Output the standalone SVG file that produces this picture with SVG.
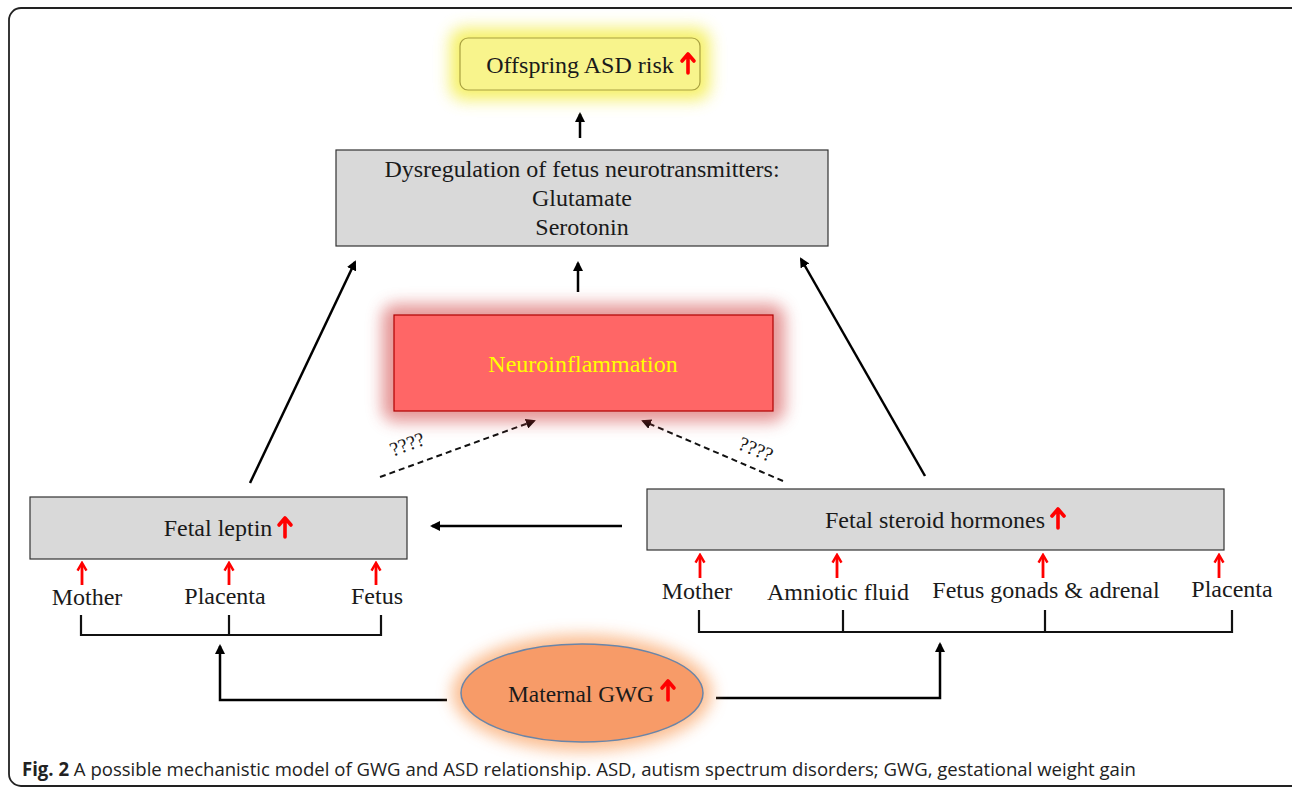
<svg xmlns="http://www.w3.org/2000/svg" width="1292" height="789" viewBox="0 0 1292 789">
<style>
.t{font-family:"Liberation Serif","Times New Roman",serif;fill:#1a1a1a;text-anchor:middle;dominant-baseline:central}
.box{fill:#d9d9d9;stroke:#333;stroke-width:1.2}
.ln{fill:none;stroke:#000;stroke-width:2.5}
.br{fill:none;stroke:#111;stroke-width:2.2}
.rd{fill:none;stroke:#ff0000;stroke-width:2.8}
</style>
<defs>
<marker id="ah" viewBox="0 0 10 10" refX="8" refY="5" markerWidth="4" markerHeight="4" orient="auto"><path d="M0,0 L10,5 L0,10 z" fill="#000"/></marker>
<marker id="ahs" viewBox="0 0 10 10" refX="8" refY="5" markerWidth="5" markerHeight="5" orient="auto"><path d="M0,0 L10,5 L0,10 z" fill="#000"/></marker>
<marker id="rh" viewBox="0 0 10 10" refX="7" refY="5" markerWidth="4" markerHeight="4" orient="auto"><path d="M1,1 L8,5 L1,9" fill="none" stroke="#ff0000" stroke-width="2.2"/></marker>
<filter id="glow" x="-30%" y="-50%" width="160%" height="200%"><feGaussianBlur stdDeviation="8"/></filter>
<path id="up" d="M0,10 V-8 M-6,-2 L0,-9 L6,-2" fill="none" stroke="#ff0000" stroke-width="3.6" stroke-linecap="round" stroke-linejoin="round"/>
</defs>
<rect x="9" y="8" width="1300" height="778" rx="12" fill="#fff" stroke="#222" stroke-width="1.8"/>

<g id="connectors">
<line class="ln" x1="580" y1="138" x2="580" y2="114" marker-end="url(#ah)"/>
<line class="ln" x1="578" y1="292" x2="578" y2="263" marker-end="url(#ah)"/>
<line class="ln" x1="250" y1="483" x2="355" y2="262" marker-end="url(#ah)"/>
<line class="ln" x1="925" y1="476" x2="801" y2="259" marker-end="url(#ah)"/>
<line class="ln" x1="622" y1="526" x2="432" y2="526" marker-end="url(#ah)"/>
<line x1="380" y1="477" x2="534" y2="421" stroke="#111" stroke-width="2" stroke-dasharray="6,4" marker-end="url(#ahs)"/>
<line x1="783" y1="481" x2="643" y2="421" stroke="#111" stroke-width="2" stroke-dasharray="6,4" marker-end="url(#ahs)"/>
<text class="t" font-size="20" transform="translate(407,444) rotate(-20)">????</text>
<text class="t" font-size="20" transform="translate(756,449) rotate(22)">????</text>
<polyline class="ln" points="447,700 220,700 220,646" marker-end="url(#ah)"/>
<polyline class="ln" points="716,698 940,698 940,644" marker-end="url(#ah)"/>
<polyline class="br" points="81,615 81,635 381,635 381,615"/>
<line class="br" x1="229" y1="615" x2="229" y2="635"/>
<polyline class="br" points="699,610 699,632 1232,632 1232,610"/>
<line class="br" x1="843" y1="610" x2="843" y2="632"/>
<line class="br" x1="1045" y1="610" x2="1045" y2="632"/>
<line class="rd" x1="82" y1="585" x2="82" y2="564" marker-end="url(#rh)"/>
<line class="rd" x1="229" y1="585" x2="229" y2="564" marker-end="url(#rh)"/>
<line class="rd" x1="376" y1="585" x2="376" y2="564" marker-end="url(#rh)"/>
<line class="rd" x1="700" y1="578" x2="700" y2="556" marker-end="url(#rh)"/>
<line class="rd" x1="837" y1="578" x2="837" y2="556" marker-end="url(#rh)"/>
<line class="rd" x1="1043" y1="578" x2="1043" y2="556" marker-end="url(#rh)"/>
<line class="rd" x1="1219" y1="578" x2="1219" y2="556" marker-end="url(#rh)"/>
</g>

<g id="offspring">
<rect x="450" y="28" width="260" height="72" rx="14" fill="#f4ee50" filter="url(#glow)" opacity="0.85"/>
<rect x="460" y="38" width="240" height="52" rx="8" fill="#f8f48c" stroke="#a8a040" stroke-width="1.2"/>
<text class="t" x="580" y="65" font-size="24">Offspring ASD risk</text>
<use href="#up" x="688" y="63"/>
</g>

<g id="dysregulation">
<rect class="box" x="336" y="150" width="492" height="96"/>
<text class="t" x="582" y="169" font-size="24">Dysregulation of fetus neurotransmitters:</text>
<text class="t" x="582" y="198" font-size="24">Glutamate</text>
<text class="t" x="582" y="227" font-size="24">Serotonin</text>
</g>

<g id="neuroinflammation">
<rect x="382" y="304" width="403" height="118" rx="14" fill="#d04040" filter="url(#glow)" opacity="0.55"/>
<rect x="394" y="315" width="379" height="96" fill="#ff6666" stroke="#b00000" stroke-width="1.2"/>
<text class="t" x="583" y="364" font-size="24" style="fill:#ffff00">Neuroinflammation</text>
</g>

<g id="leptin">
<rect class="box" x="30" y="497" width="377" height="62"/>
<text class="t" x="218" y="528" font-size="24">Fetal leptin</text>
<use href="#up" x="285" y="527"/>
<text class="t" x="87" y="597" font-size="24">Mother</text>
<text class="t" x="225" y="596" font-size="24">Placenta</text>
<text class="t" x="377" y="596" font-size="24">Fetus</text>
</g>

<g id="steroid">
<rect class="box" x="647" y="489" width="577" height="61"/>
<text class="t" x="935" y="520" font-size="24">Fetal steroid hormones</text>
<use href="#up" x="1058" y="518"/>
<text class="t" x="697" y="591" font-size="24">Mother</text>
<text class="t" x="838" y="592" font-size="24">Amniotic fluid</text>
<text class="t" x="1046" y="590" font-size="24">Fetus gonads &amp; adrenal</text>
<text class="t" x="1232" y="589" font-size="24">Placenta</text>
</g>

<g id="maternal">
<ellipse cx="582" cy="693" rx="130" ry="58" fill="#f9a060" filter="url(#glow)" opacity="0.7"/>
<ellipse cx="582" cy="693" rx="121" ry="49" fill="#f79b68" stroke="#6a85a8" stroke-width="1.5"/>
<text class="t" x="581" y="694" font-size="24" textLength="146" lengthAdjust="spacingAndGlyphs">Maternal GWG</text>
<use href="#up" x="668" y="690"/>
</g>

<g id="caption">
<text x="22" y="776" font-family="Open Sans, Liberation Sans, sans-serif" font-size="19" fill="#222" textLength="1114" lengthAdjust="spacingAndGlyphs"><tspan font-weight="bold">Fig. 2</tspan> A possible mechanistic model of GWG and ASD relationship. ASD, autism spectrum disorders; GWG, gestational weight gain</text>
</g>
</svg>
